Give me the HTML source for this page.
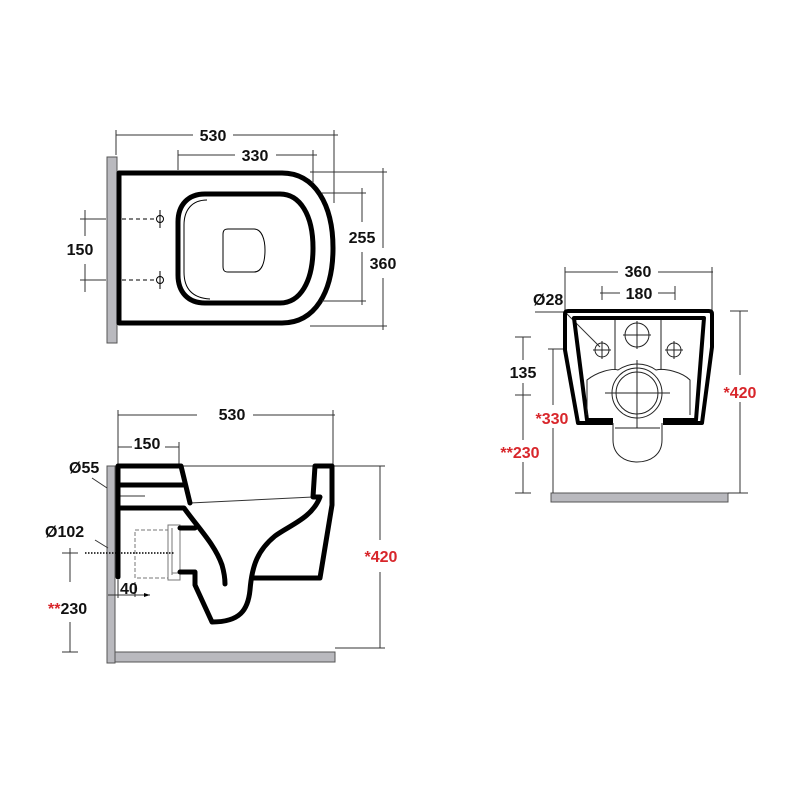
<!DOCTYPE html>
<html><head><meta charset="utf-8"><style>
html,body{margin:0;padding:0;background:#fff;}
svg{display:block}
text{font-family:"Liberation Sans",Arial,sans-serif;font-weight:bold;font-size:16px;fill:#111;}
.r{fill:#d8262b}
</style></head><body>
<svg width="800" height="800" viewBox="0 0 800 800" xmlns="http://www.w3.org/2000/svg">
<rect width="800" height="800" fill="#fff"/>
<!-- TOP VIEW -->
<rect x="107" y="157" width="10" height="186" fill="#b9b9be" stroke="#555" stroke-width="1"/>
<g fill="none" stroke="#000" stroke-width="5" stroke-linejoin="round">
<path d="M119,173 H282 C315,173 333,205 333,248 C333,292 315,323 282,323 H119 Z"/>
<path d="M205,194 H280 C300,194 313,215 313,248 C313,282 300,303 280,303 H205 C188,303 178,292 178,275 V222 C178,205 188,194 205,194 Z"/>
</g>
<g fill="none" stroke="#000" stroke-width="1">
<path d="M207,200 C192,200 184,210 184,225 V272 C184,288 192,298 210,299"/>
<path d="M228,229 H254 C262,229 265,240 265,250 C265,262 262,272 254,272 H228 C224,272 223,270 223,266 V234 C223,231 224,229 228,229 Z"/>
<circle cx="160" cy="219" r="3.5"/><circle cx="160" cy="280" r="3.5"/>
<path d="M160,210 V228 M160,271 V289"/>
<path d="M122,219 H156 M122,280 H156" stroke-dasharray="4,3"/>
</g>
<g stroke="#333" stroke-width="1" fill="none">
<path d="M85,210 V236 M85,264 V292 M80,219 H106 M80,280 H106"/>
<path d="M116,135 H193 M233,135 H338 M116,130 V155 M334,130 V203"/>
<path d="M178,155 H235 M276,155 H317 M178,150 V170 M313,150 V183"/>
<path d="M322,193 H366 M322,301 H366 M362,188 V222 M362,252 V305"/>
<path d="M310,172 H387 M310,326 H387 M383,168 V248 M383,278 V330"/>
</g>
<text x="213" y="141" text-anchor="middle">530</text>
<text x="255" y="161" text-anchor="middle">330</text>
<text x="80" y="255" text-anchor="middle">150</text>
<text x="362" y="243" text-anchor="middle">255</text>
<text x="383" y="269" text-anchor="middle">360</text>

<!-- SIDE VIEW -->
<rect x="107" y="466" width="8" height="197" fill="#b9b9be" stroke="#555" stroke-width="1"/>
<rect x="115" y="652" width="220" height="10" fill="#b9b9be" stroke="#555" stroke-width="1"/>
<g fill="none" stroke="#333" stroke-width="1">
<path d="M118,410 V466 M333,410 V466 M118,415 H197 M253,415 H335"/>
<path d="M118,447 H132 M165,447 H179 M179,442 V466"/>
<path d="M181,466 H333 M333,466 H385 M380,466 V540 M380,572 V648 M335,648 H385"/>
<path d="M313,497 L190,503"/>
<path d="M120,496 H145"/>
<path d="M135,530 H168 V578 H135 Z" stroke="#777" stroke-dasharray="4,2"/>
<path d="M168,525 H180 V580 H168 Z M172,528 V575 M172,573 H178" stroke="#777"/>
<path d="M70,548 V582 M70,622 V652 M62,553 H78 M62,652 H78"/>
<path d="M108,595 H150 M118,580 V598 M135,582 V597"/>
<path d="M92,478 L107,488 M95,540 L108,548"/>
</g>
<path d="M85,553 H175" stroke="#000" stroke-width="1.5" stroke-dasharray="1.5,1.5"/>
<path d="M150,595 l-6,-2 v4 z" fill="#000"/>
<g fill="none" stroke="#000" stroke-width="5" stroke-linejoin="round" stroke-linecap="round">
<path d="M118,577 V466 H181 L190,503"/>
<path d="M118,485 H183"/>
<path d="M118,508 H184 C200,530 215,545 222,565 C224,572 225,578 225,584"/>
<path d="M180,528 H195"/>
<path d="M180,572 H195 L195,585 L212,622 C240,622 248,610 250,590 C252,565 258,550 275,536 C290,525 312,518 320,497 L313,497 L315,466 H332 V505 L320,578 H253"/>
</g>
<text x="69" y="473" font-size="15">Ø55</text>
<text x="45" y="537">Ø102</text>
<text x="120" y="594" font-size="11" font-weight="normal">40</text>
<text x="48" y="614"><tspan class="r">**</tspan>230</text>
<text x="381" y="562" text-anchor="middle" class="r">*420</text>
<text x="232" y="420" text-anchor="middle">530</text>
<text x="147" y="449" text-anchor="middle">150</text>

<!-- FRONT VIEW -->
<rect x="551" y="493" width="177" height="9" fill="#b9b9be" stroke="#555" stroke-width="1"/>
<g fill="none" stroke="#333" stroke-width="1">
<path d="M565,272 H618 M658,272 H713 M565,267 V310 M712,267 V310"/>
<path d="M600,293 H620 M658,293 H675 M602,286 V300 M675,286 V300"/>
<path d="M535,312 H565 L600,347"/>
<path d="M515,337 H531 M523,337 V360 M523,383 V395 M515,395 H531 M523,395 V440 M523,462 V493 M515,493 H531"/>
<path d="M548,349 H564 M553,349 V405 M553,428 V493"/>
<path d="M730,311 H748 M740,311 V375 M740,402 V493 M728,493 H748"/>
</g>
<g fill="none" stroke="#000" stroke-width="4" stroke-linejoin="round">
<path d="M613,423 H578 L565,350 V314 Q565,311 568,311 H709 Q712,311 712,314 V347 L702,423 H663"/>
<path d="M613,420 H587 L574,318 H704 L696,420 H663"/>
</g>
<g fill="none" stroke="#222" stroke-width="1">
<path d="M615,320 V370 M661,320 V370"/>
<circle cx="637" cy="335" r="12"/><path d="M623,335 H651 M637,321 V349"/>
<circle cx="602" cy="350" r="7"/><path d="M593,350 H611 M602,341 V359"/>
<circle cx="674" cy="350" r="7"/><path d="M665,350 H683 M674,341 V359"/>
<path d="M587,415 V380 C597,372 612,368 618,370 C630,362 645,362 656,370 C665,368 682,372 690,380 V415"/>
<circle cx="637" cy="393" r="25"/><circle cx="637" cy="393" r="21"/>
<path d="M605,393 H670 M637,360 V428"/>
<path d="M613,423 V440 C613,455 625,462 637,462 C650,462 662,455 662,440 V423"/>
<path d="M615,428 H660"/>
</g>
<text x="638" y="277" text-anchor="middle">360</text>
<text x="639" y="299" text-anchor="middle">180</text>
<text x="533" y="305">Ø28</text>
<text x="523" y="378" text-anchor="middle">135</text>
<text x="552" y="424" text-anchor="middle" class="r">*330</text>
<text x="520" y="458" text-anchor="middle" class="r">**230</text>
<text x="740" y="398" text-anchor="middle" class="r">*420</text>
</svg>
</body></html>
